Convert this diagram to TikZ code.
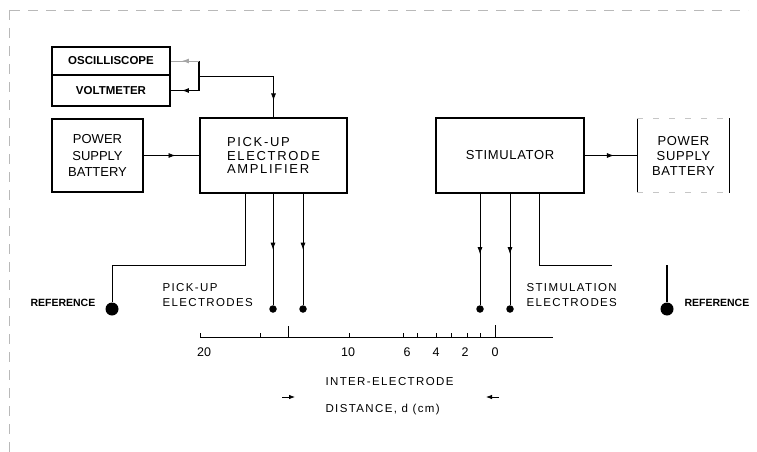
\documentclass[tikz,border=0pt]{standalone}
\usepackage{fontspec}
\setmainfont{Liberation Sans}
\newfontfamily\trk[LetterSpace=12]{Liberation Sans}
\newfontfamily\trkb[LetterSpace=13]{Liberation Sans}
\newfontfamily\trks[LetterSpace=5]{Liberation Sans}
\usetikzlibrary{arrows.meta,decorations.markings}
\begin{document}
\begin{tikzpicture}[x=1pt,y=-1pt,
  thinbox/.style={draw,line width=1.3pt,inner sep=0pt,align=center},
  thickbox/.style={draw,line width=2.8pt,inner sep=0pt},
  wire/.style={line width=0.8pt},
  marrow/.style={postaction={decorate},decoration={markings,mark=at position #1 with {\arrow{Latex[length=7pt,width=5pt]}}}},
  edot/.style={circle,fill,inner sep=0pt,minimum size=7.5pt},
  refdot/.style={circle,fill,inner sep=0pt,minimum size=13pt},
  instr/.style={font=\bfseries\fontsize{11.5}{12}\selectfont},
  lbl/.style={font=\trk\fontsize{11.5}{15}\selectfont},
  reflbl/.style={font=\bfseries\fontsize{10.5}{12}\selectfont},
  num/.style={font=\fontsize{12.5}{13}\selectfont},
  frame/.style={gray!55,line width=0.6pt,dash pattern=on 10pt off 8pt}
]
\useasboundingbox (0,0) rectangle (757,452);
% faint frame
\draw[frame] (10,10) -- (748,10);
\draw[frame] (9,10) -- (9,452);

% instruments
\node[thinbox,instr,minimum width=118pt,minimum height=28pt] (osc) at (111,61) {OSCILLISCOPE};
\node[thinbox,instr,minimum width=118pt,minimum height=31pt] (volt) at (111,90.5) {VOLTMETER};

% power supplies and main boxes
\node[thinbox,minimum width=91pt,minimum height=73pt,font=\fontsize{13}{16.5}\selectfont] (psbL) at (97.5,155.5) {POWER\\SUPPLY\\BATTERY};
\node[thickbox,minimum width=147pt,minimum height=75pt,align=left,font=\trkb\fontsize{13}{13.5}\selectfont] (amp) at (273.5,155.5) {PICK-UP\\ELECTRODE\\AMPLIFIER};
\node[thickbox,minimum width=148pt,minimum height=75pt,font=\trks\fontsize{13}{14}\selectfont] (stim) at (510,155.5) {STIMULATOR};
\node[inner sep=0pt,minimum width=92pt,minimum height=74pt,align=center,font=\trks\fontsize{13}{15}\selectfont] (psbR) at (683.5,155.5) {POWER\\SUPPLY\\BATTERY};
\draw[line width=1.2pt] (psbR.north west) -- (psbR.south west);
\draw[line width=1.2pt] (psbR.north east) -- (psbR.south east);
\draw[gray!45,line width=0.6pt,dash pattern=on 6pt off 10pt] (psbR.north west) -- (psbR.north east);
\draw[gray!45,line width=0.6pt,dash pattern=on 6pt off 10pt] (psbR.south west) -- (psbR.south east);

% bracket to instruments
\coordinate (bt) at (199,61);
\coordinate (bb) at (199,90.5);
\coordinate (bm) at (199,76);
\draw[line width=1.3pt] (bt) -- (bb) -- ++(-3,0);
\draw[wire,gray!70,marrow=0.6] (bt) -- (osc.east);
\draw[wire,marrow=0.6] (bb) -- (volt.east);
\draw[wire,marrow=0.86] (bm) -| (amp.north);

% power connections
\draw[wire,marrow=0.58] (psbL.east) -- (amp.west);
\draw[wire,marrow=0.55] (stim.east) -- (psbR.west);

% electrodes
\node[edot] (p1) at (273,309) {};
\node[edot] (p2) at (303,309) {};
\node[edot] (s1) at (480,309) {};
\node[edot] (s2) at (510,309) {};
\draw[wire,marrow=0.5] (p1 |- amp.south) -- (p1);
\draw[wire,marrow=0.5] (p2 |- amp.south) -- (p2);
\draw[wire,marrow=0.54] (s1 |- stim.south) -- (s1);
\draw[wire,marrow=0.54] (s2 |- stim.south) -- (s2);

% references
\node[refdot] (refL) at (112,309) {};
\node[refdot] (refR) at (667,309) {};
\coordinate (cL) at (112,265);
\coordinate (aL) at (245,193);
\draw[wire] (aL) |- (cL) -- (refL);
\coordinate (aR) at (539,193);
\coordinate (cR) at (612,265);
\draw[wire] (aR) |- (cR);
\coordinate (tR) at (667,265);
\draw[line width=1.2pt] (tR) -- (refR);

\node[reflbl,anchor=west] (rlL) at (27,303) {REFERENCE};
\node[reflbl,anchor=west] (rlR) at (681,303) {REFERENCE};
\node[lbl,align=left,anchor=west] (pel) at (159,295) {PICK-UP\\ELECTRODES};
\node[lbl,align=left,anchor=west] (sel) at (523,295) {STIMULATION\\ELECTRODES};

% distance scale
\coordinate (sa) at (200,337);
\coordinate (sb) at (553,337);
\draw[line width=0.6pt] (sa) -- (sb);
\foreach \x in {200,260,349,403,417,436,451,467,480}
  \draw[line width=0.6pt] (\x,337) -- (\x,333);
\draw[line width=0.6pt] (288,337) -- (288,326);
\draw[line width=1pt] (495,337) -- (495,325);

\node[num] (n20) at (204,352) {20};
\node[num] (n10) at (348,352) {10};
\node[num] (n6) at (407,352) {6};
\node[num] (n4) at (436,352) {4};
\node[num] (n2) at (465,352) {2};
\node[num] (n0) at (495,352) {0};

\node[lbl,anchor=west] (ie1) at (322,382) {INTER-ELECTRODE};
\node[lbl,anchor=west] (ie2) at (322,410) {DISTANCE, d (cm)};
\coordinate (la1) at (282,397);
\coordinate (la2) at (295,397);
\coordinate (ra1) at (499,397);
\coordinate (ra2) at (486,397);
\draw[wire,-{Latex[length=6pt,width=4.5pt]}] (la1) -- (la2);
\draw[wire,-{Latex[length=6pt,width=4.5pt]}] (ra1) -- (ra2);
\end{tikzpicture}
\end{document}
